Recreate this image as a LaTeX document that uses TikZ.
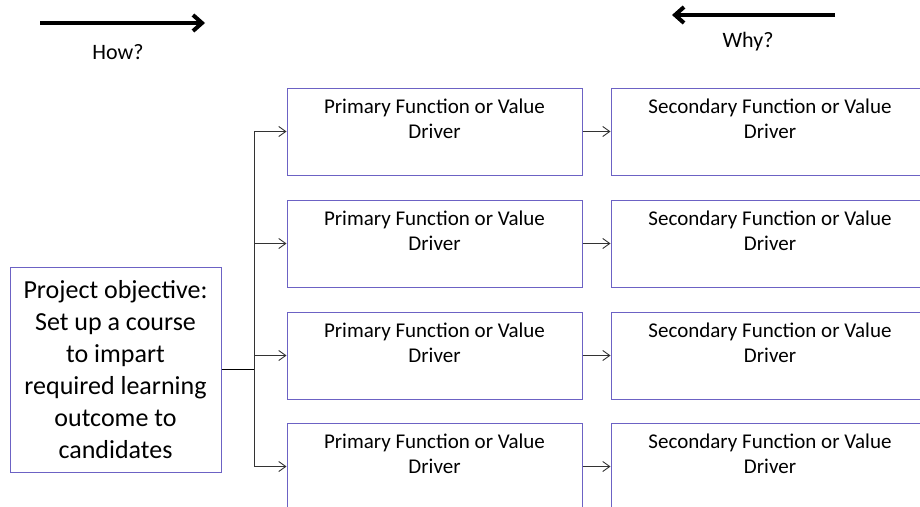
\documentclass[tikz,border=0pt]{standalone}
\usepackage{fontspec}
\setmainfont{Carlito}
\usepackage{xcolor}
\usepackage{tikz}
\usetikzlibrary{positioning,arrows.meta}
\definecolor{boxline}{RGB}{108,98,196}

\begin{document}
\begin{tikzpicture}[x=1pt,y=-1pt,
		fbox/.style = {draw=boxline, line width=1pt, align=center, inner sep=0pt, minimum height=87pt, font=\fontsize{21}{25}\selectfont},
		prim/.style = {fbox, minimum width=295pt},
		sec/.style = {fbox, minimum width=318pt},
		link/.style = {draw=black!80, line width=0.9pt, -{Straight Barb[length=7pt,width=10pt]}},
		bigarrow/.style = {line width=4pt, -{Straight Barb[length=9pt,width=16pt]}},
		caption/.style = {font=\fontsize{22}{26}\selectfont}]
	\clip (0,0) rectangle (920,506);

	% how / why
	\coordinate (how0) at (40,23);
	\coordinate (how1) at (205,23);
	\coordinate (why0) at (835,15);
	\coordinate (why1) at (672,15);
	\draw[bigarrow] (how0) -- (how1);
	\draw[bigarrow] (why0) -- (why1);
	\node[caption] (how) at (118,52) {How?};
	\node[caption] (why) at (748,42) {Why?};

	% objective
	\node[fbox, minimum width=211pt, minimum height=205pt, font=\fontsize{26}{32}\selectfont] (obj) at (115.5,369.5)
		{Project objective:\\Set up a course\\to impart\\required learning\\outcome to\\candidates};

	% primary functions
	\node[prim] (prim1) at (434.5,131.5) {Primary Function or Value\\Driver\\\mbox{}};
	\node[prim] (prim2) at (434.5,243.5) {Primary Function or Value\\Driver\\\mbox{}};
	\node[prim] (prim3) at (434.5,355.5) {Primary Function or Value\\Driver\\\mbox{}};
	\node[prim] (prim4) at (434.5,466.5) {Primary Function or Value\\Driver\\\mbox{}};

	% secondary functions
	\node[sec] (sec1) at (770,131.5) {Secondary Function or Value\\Driver\\\mbox{}};
	\node[sec] (sec2) at (770,243.5) {Secondary Function or Value\\Driver\\\mbox{}};
	\node[sec] (sec3) at (770,355.5) {Secondary Function or Value\\Driver\\\mbox{}};
	\node[sec] (sec4) at (770,466.5) {Secondary Function or Value\\Driver\\\mbox{}};

	% tree
	\coordinate (split) at (254,369.5);
	\draw[line width=1.8pt] (obj.east) -- (split);
	\draw[link] (split) |- (prim1.west);
	\draw[link] (split) |- (prim2.west);
	\draw[link] (split) |- (prim3.west);
	\draw[link] (split) |- (prim4.west);

	\draw[link] (prim1) -- (sec1);
	\draw[link] (prim2) -- (sec2);
	\draw[link] (prim3) -- (sec3);
	\draw[link] (prim4) -- (sec4);
\end{tikzpicture}
\end{document}
